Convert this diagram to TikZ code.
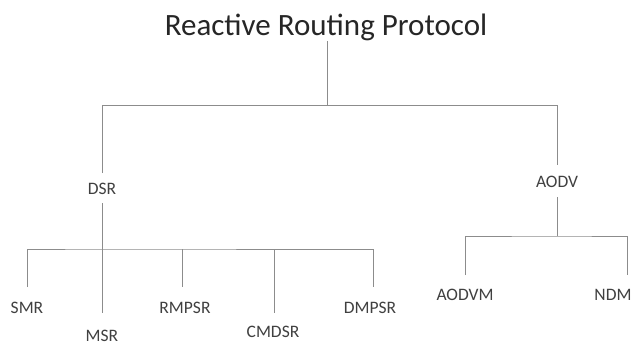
\documentclass[tikz,border=0pt]{standalone}
\usepackage{fontspec}
\setmainfont{Carlito}
\begin{document}
\begin{tikzpicture}[x=1pt,y=-1pt,
  head/.style={inner sep=0pt,text=black!85,font=\fontsize{31}{36}\selectfont},
  proto/.style={inner sep=0pt,text=black!75,font=\fontsize{17.5}{20}\selectfont},
  branch/.style={draw=black!45,line width=1pt}]
 \useasboundingbox[fill=white] (0,0) rectangle (634,346);

 \node[head](0) at (326,27){Reactive Routing Protocol};
 \node[proto](1) at (102,189){DSR};
 \node[proto](2) at (557,182){AODV};
 \node[proto](3) at (27,308){SMR};
 \node[proto](4) at (102,336){MSR};
 \node[proto](5) at (185,308){RMPSR};
 \node[proto](6) at (273,332){CMDSR};
 \node[proto](7) at (370,308){DMPSR};
 \node[proto](8) at (465,295){AODVM};
 \node[proto](9) at (613,295){NDM};

 % junctions and line ends
 \coordinate (t0) at (327,41);
 \coordinate (t1) at (327,105);
 \coordinate (l0) at (102,105);
 \coordinate (r0) at (557,105);
 \coordinate (l1) at (102,173);
 \coordinate (r1) at (557,165);
 \coordinate (l2) at (102,203);
 \coordinate (l3) at (102,249);
 \coordinate (r2) at (557,197);
 \coordinate (r3) at (557,236);

 \draw [branch] (t0) -- (t1);
 \draw [branch] (l1) -- (l0) -- (r0) -- (r1);

 \draw [branch] (l2) -- (l3);
 \draw [branch] (27,287) |- (l3) -| (373,287);
 \draw [branch] (l3) -- (102,313);
 \draw [branch] (182,249) -- (182,287);
 \draw [branch] (274,249) -- (274,313);

 \draw [branch] (r2) -- (r3);
 \draw [branch] (465,275) |- (r3) -| (627,275);

\end{tikzpicture}
\end{document}
